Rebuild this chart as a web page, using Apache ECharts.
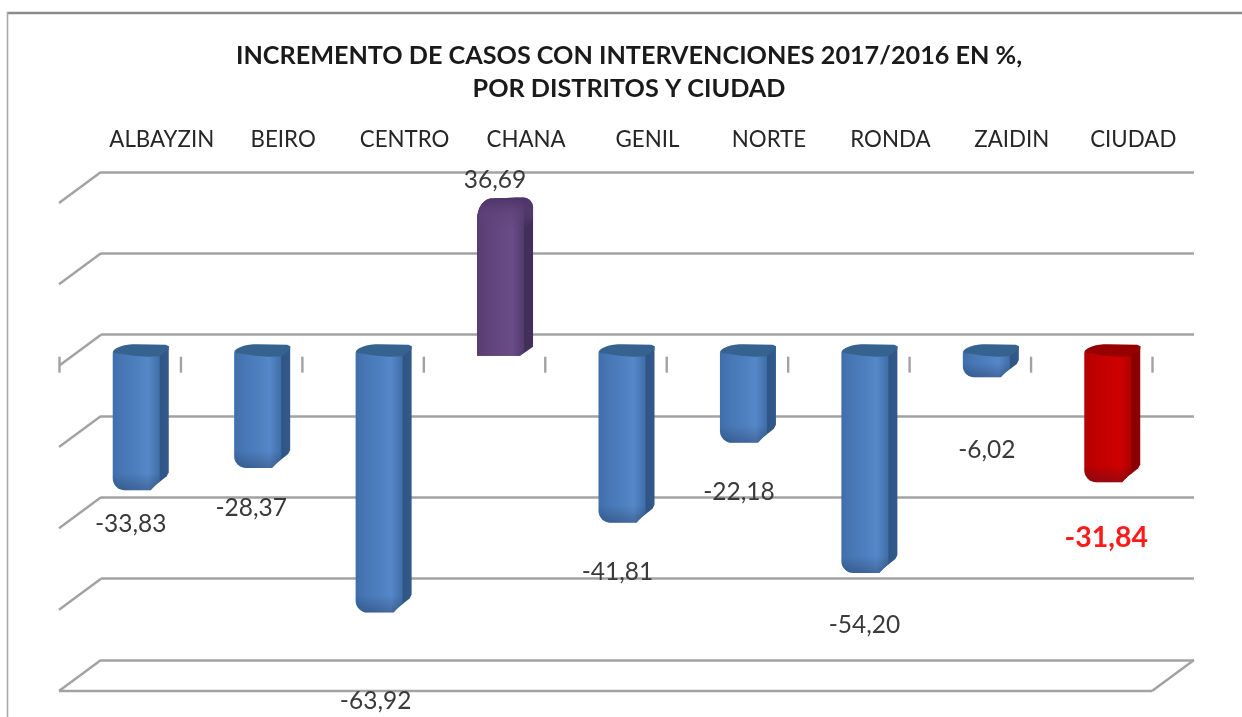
<!DOCTYPE html>
<html>
<head>
<meta charset="utf-8">
<style>
html,body{margin:0;padding:0;background:#fff;}
#c{width:1242px;height:717px;filter:blur(0.6px);}
</style>
<script src="https://cdn.jsdelivr.net/npm/echarts@6/dist/echarts.min.js"></script>
</head>
<body>
<div id="c"></div>
<script>
const titleText = 'INCREMENTO DE CASOS CON INTERVENCIONES 2017/2016 EN %,\nPOR DISTRITOS Y CIUDAD';
const categories = ['ALBAYZIN','BEIRO','CENTRO','CHANA','GENIL','NORTE','RONDA','ZAIDIN','CIUDAD'];
const values = [-33.83,-28.37,-63.92,36.69,-41.81,-22.18,-54.20,-6.02,-31.84];
const gridValues = [40,20,0,-20,-40,-60,-80];

// styling and label placement, kept apart from the values
const labelNudges = [[-31,52],[-32,58],[-29,106],[-31,-5],[-30,67],[-30,67],[-26,70],[-25,91],[-27,74]];
const FONT = 'Lato, "Open Sans", sans-serif';
const palettes = {
  blue:   {face:['#3e6fab','#4878b6','#4d7ebe','#5687c8','#3f6ea8'], side:['#2c5180','#32598a'], top:'#35628f'},
  purple: {face:['#583d71','#5f4379','#644880','#6a4c87','#523a6c'], side:['#39284e','#42305a'], top:'#5a3f74'},
  red:    {face:['#b50000','#c00000','#c60000','#d00000','#b00000'], side:['#7e0000','#8e0000'], top:'#960000'}
};
const DEPTH = {x:-42, y:31};
const BAR = {mid:-21, y:18, width:56, face:47, cap:9};

function paletteFor(i){
  if (categories[i] === 'CIUDAD') return palettes.red;
  return values[i] > 0 ? palettes.purple : palettes.blue;
}
function grad(x,y,x2,y2,cols){
  return {type:'linear',x:x,y:y,x2:x2,y2:y2,colorStops:cols.map((c,k)=>({offset:k/(cols.length-1),color:c}))};
}
function arc(cx,cy,rx,ry,a0,a1){
  const out=[]; for(let k=0;k<=8;k++){const a=(a0+(a1-a0)*k/8)*Math.PI/180; out.push([cx+rx*Math.cos(a),cy+ry*Math.sin(a)]);} return out;
}

function renderFrame(params, api){
  const v = api.value(0);
  const band = api.size([1,0])[0];
  const L = api.coord([0,v]); const R = api.coord([categories.length-1,v]);
  const x0 = L[0]-band/2, x1 = R[0]+band/2, y = L[1];
  const st = {stroke:'#a2a2a2',lineWidth:2.4,fill:null};
  const kids = [{type:'line',shape:{x1:x0,y1:y,x2:x0+DEPTH.x,y2:y+DEPTH.y},style:st}];
  if (v === gridValues[gridValues.length-1]) {
    kids.push({type:'line',shape:{x1:x0+DEPTH.x,y1:y+DEPTH.y,x2:x1+DEPTH.x,y2:y+DEPTH.y},style:st});
    kids.push({type:'line',shape:{x1:x1,y1:y,x2:x1+DEPTH.x,y2:y+DEPTH.y},style:st});
  }
  if (v === 0) {
    for (let k=0;k<=categories.length;k++){
      const tx = x0+DEPTH.x+k*band+0.5;
      kids.push({type:'line',shape:{x1:tx,y1:y+22,x2:tx,y2:y+38},style:st});
    }
  }
  return {type:'group',children:kids};
}

function renderBar(params, api){
  const i = api.value(0), v = api.value(1);
  const zero = api.coord([i,0]), end = api.coord([i,v]);
  const x0 = zero[0]+BAR.mid-BAR.width/2, xf = x0+BAR.face, x1 = x0+BAR.width;
  const yz = zero[1]+BAR.y, ye = end[1]+BAR.y;
  const p = paletteFor(i);
  const kids = [];
  const faceGrad = grad(0,0,1,0,p.face);
  const sideGrad = grad(0,0,1,0,p.side);
  if (v < 0) {
    const h = ye-yz;
    const r = Math.min(12,h*0.45), ch = Math.min(16,h*0.62);
    // side
    kids.push({type:'polygon',shape:{points:[[xf-2,yz+2],[x1,yz-7],[x1,ye-ch-2],[x1-2,ye-ch+2],[xf-10,ye-0.5],[xf-12,ye-ch*0.3]]},style:{fill:sideGrad}});
    // face, rounded at the far end
    const facePts = [[x0,yz],[xf,yz+2],[xf,ye-ch*0.6],[xf-9,ye]]
      .concat([[x0+r+3,ye]]).concat(arc(x0+r,ye-r,r,r,90,180));
    kids.push({type:'polygon',shape:{points:facePts},style:{fill:faceGrad}});
    // darker lower edge
    const b = Math.min(11,h*0.35);
    kids.push({type:'polygon',shape:{points:[[x0,ye-b-r*0.5],[xf,ye-b-r*0.5],[xf,ye-ch*0.6],[xf-9,ye],[x0+r+3,ye]].concat(arc(x0+r,ye-r,r,r,90,180))},
      style:{fill:grad(0,0,0,1,['rgba(20,30,50,0)','rgba(20,30,50,0.28)'])}});
    // top cap
    const cap = [[x0,yz]].concat(arc(x0+24,yz,24,8.5,180,270)).concat([[x1-3,yz-8],[x1,yz-6.5],[x1,yz-3.5],[xf,yz+3.5]]);
    cap.push([xf-12,yz+4],[xf-26,yz+3],[x0+8,yz+1]);
    kids.push({type:'polygon',shape:{points:cap},style:{fill:p.top}});
  } else {
    // rising bar: domed end away from the base
    const yt = ye-6;
    // whole silhouette in the side colour
    const sil = [[x0,yz+3],[x0,yt+22]].concat(arc(x0+15,yt+22,15,21,180,270))
      .concat(arc(x1-10,yt+10,10,10,270,360)).concat([[x1,yz-6],[x1-13,yz+3]]);
    kids.push({type:'polygon',shape:{points:sil},style:{fill:sideGrad}});
    // front face
    const pts = [[x0,yz+3],[x0,yt+22]].concat(arc(x0+15,yt+22,15,21,180,270))
      .concat(arc(xf-7,yt+9,7,9,270,360)).concat([[xf,yz-1],[x1-13,yz+3]]);
    kids.push({type:'polygon',shape:{points:pts},style:{fill:faceGrad}});
    // soft shading of the dome, fading downwards
    const dome = [[x0,yt+32],[x0,yt+22]].concat(arc(x0+15,yt+22,15,21,180,270))
      .concat(arc(x1-10,yt+10,10,10,270,360)).concat([[x1,yt+22],[xf,yt+32]]);
    kids.push({type:'polygon',shape:{points:dome},style:{fill:grad(0,0,0,1,['#4d3468','rgba(93,65,119,0.55)','rgba(93,65,119,0)'])}});
  }
  return {type:'group',children:kids};
}

function renderLabel(params, api){
  const i = api.value(0), v = api.value(1);
  const c = api.coord([i,v]), n = labelNudges[i];
  const main = categories[i] === 'CIUDAD';
  return {type:'text',z2:50,style:{
    text:v.toFixed(2).replace('.',','),
    x:c[0]+n[0],y:c[1]+n[1],align:'center',verticalAlign:'middle',
    fill:main?'#ff1a1a':'#3a3a3a',
    font:(main?'bold 28.5px ':'24.5px ')+FONT
  }};
}

const chart = echarts.init(document.getElementById('c'),null,{renderer:'canvas'});
const barData = values.map((v,i)=>[i,v]);
chart.setOption({
  animation:false,
  backgroundColor:'#ffffff',
  title:{text:titleText,left:624,top:34,textAlign:'center',
    textStyle:{fontFamily:FONT,fontSize:25.2,fontWeight:'bold',color:'#1a1a1a',lineHeight:33}},
  grid:{left:101,width:1093,top:172,height:488,containLabel:false},
  xAxis:{type:'category',data:categories,position:'top',
    axisLine:{show:false},axisTick:{show:false},splitLine:{show:false},
    axisLabel:{interval:0,margin:21,fontFamily:FONT,fontSize:22.3,color:'#262626'}},
  yAxis:{type:'value',min:-80,max:40,interval:20,
    axisLine:{show:false},axisTick:{show:false},axisLabel:{show:false},
    splitLine:{show:true,lineStyle:{color:'#a2a2a2',width:2.6}}},
  graphic:[
    {type:'line',shape:{x1:7,y1:13,x2:1242,y2:13},style:{stroke:'#8a8a8a',lineWidth:2.4},silent:true},
    {type:'line',shape:{x1:7.5,y1:12,x2:7.5,y2:717},style:{stroke:'#a8a8a8',lineWidth:1.6},silent:true}
  ],
  series:[
    {type:'custom',name:'frame',z:1,clip:false,silent:true,renderItem:renderFrame,data:gridValues.map(v=>[v]),encode:{y:0}},
    {type:'custom',name:'Incremento %',z:3,clip:false,silent:true,renderItem:renderBar,data:barData,encode:{x:0,y:1}},
    {type:'custom',name:'etiquetas',z:5,clip:false,silent:true,renderItem:renderLabel,data:barData,encode:{x:0,y:1}}
  ]
});
</script>
</body>
</html>
